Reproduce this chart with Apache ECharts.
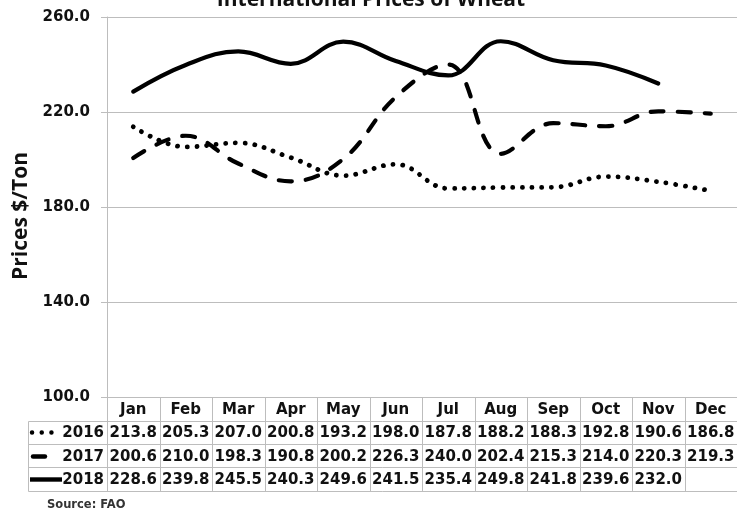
<!DOCTYPE html>
<html><head><meta charset="utf-8">
<script src="https://cdn.jsdelivr.net/npm/echarts@6/dist/echarts.min.js"></script>
<style>html,body{margin:0;padding:0;background:#fff}#c{width:737px;height:514px}</style>
</head><body><div id="c"></div>
<script>
const months = ['Jan','Feb','Mar','Apr','May','Jun','Jul','Aug','Sep','Oct','Nov','Dec'];
const seriesNames = ['2016','2017','2018'];
const prices2016 = [213.8,205.3,207.0,200.8,193.2,198.0,187.8,188.2,188.3,192.8,190.6,186.8];
const prices2017 = [200.6,210.0,198.3,190.8,200.2,226.3,240.0,202.4,215.3,214.0,220.3,219.3];
const prices2018 = [228.6,239.8,245.5,240.3,249.6,241.5,235.4,249.8,241.8,239.6,232.0,null];
const yMin = 100, yMax = 260, yStep = 40;
const titleText = 'International Prices of Wheat';
const yName = 'Prices $/Ton';
const sourceText = 'Source: FAO';

const allValues = [prices2016, prices2017, prices2018];
const dashStyles = [
  {type:[0.1, 9.6], cap:'round', width:4.8},
  {type:[13, 14], cap:'round', width:4.2},
  {type:'solid', cap:'round', width:4.2}
];
const gridCol = '#bdbdbd';
const txtFont = 'DejaVu Sans';

const chart = echarts.init(document.getElementById('c'), null, {renderer:'canvas'});
const option = {
  animation: false,
  backgroundColor: '#fff',
  grid: {left:107, top:17, width:642, height:380, containLabel:false},
  xAxis: {
    type:'category', data: months, boundaryGap:true,
    axisLine:{show:true, lineStyle:{color:gridCol, width:1}},
    axisTick:{show:false}, axisLabel:{show:false}, splitLine:{show:false}
  },
  yAxis: {
    type:'value', min:yMin, max:yMax, interval:yStep,
    axisLine:{show:true, lineStyle:{color:gridCol, width:1}},
    axisTick:{show:true, length:6, lineStyle:{color:gridCol}},
    splitLine:{show:true, lineStyle:{color:gridCol, width:1}},
    axisLabel:{margin:17, formatter:v=>v.toFixed(1), fontFamily:txtFont, fontWeight:'bold', fontSize:15, color:'#111'}
  },
  series: seriesNames.map((n,i)=>({
    name:n, type:'line', data: allValues[i], smooth:0.4, symbol:'none', connectNulls:false,
    lineStyle: Object.assign({color:'#000'}, dashStyles[i]),
    z: 3
  }))
};
chart.setOption(option);

// table below the plot
const xc = i => chart.convertToPixel({xAxisIndex:0}, i);
const half = (xc(1) - xc(0)) / 2;
const tableTop = Math.round(chart.convertToPixel({yAxisIndex:0}, yMin)) + 0.5;
const rowH = 23.3;
const labelLeft = 28.5;
const rightEdge = xc(months.length - 1) + half;
const g = [];
const lineEl = (x1,y1,x2,y2,style) => g.push({type:'line', shape:{x1,y1,x2,y2}, style:Object.assign({stroke:gridCol, lineWidth:1}, style||{}), z:10});
const textEl = (x,y,t,opts) => g.push({type:'text', x, y, style:Object.assign({text:t, fill:'#111', font:'bold 15px "DejaVu Sans"', textAlign:'center', textVerticalAlign:'middle'}, opts||{}), z:11});

// horizontal lines
for (let r = 1; r <= 4; r++) {
  const y = Math.round(tableTop + r*rowH) + 0.5;
  lineEl(labelLeft, y, rightEdge, y);
}
// vertical lines
for (let k = 0; k <= months.length; k++) {
  const x = Math.round(xc(0) - half + k*2*half) + 0.5;
  lineEl(x, tableTop, x, Math.round(tableTop + 4*rowH) + 0.5);
}
lineEl(labelLeft, Math.round(tableTop + rowH) + 0.5, labelLeft, Math.round(tableTop + 4*rowH) + 0.5);

// header
months.forEach((m,i) => textEl(xc(i), tableTop + rowH/2 + 1, m));
// rows
allValues.forEach((vals, r) => {
  const yc = tableTop + rowH*(r+1) + rowH/2 + 1;
  vals.forEach((v,i) => { if (v !== null && v !== undefined) textEl(xc(i), yc, v.toFixed(1)); });
  textEl(104, yc, seriesNames[r], {textAlign:'right'});
  // legend keys
  const ky = Math.round(yc) - 0.5;
  if (r === 0) g.push({type:'line', shape:{x1:32, y1:ky, x2:58, y2:ky}, style:{stroke:'#000', lineWidth:4.4, lineDash:[0.1, 9.6], lineCap:'round'}, z:11});
  if (r === 1) g.push({type:'line', shape:{x1:33, y1:ky, x2:45, y2:ky}, style:{stroke:'#000', lineWidth:4.4, lineCap:'round'}, z:11});
  if (r === 2) g.push({type:'line', shape:{x1:30, y1:ky, x2:62, y2:ky}, style:{stroke:'#000', lineWidth:4.4, lineCap:'butt'}, z:11});
});

// title, y name, source
g.push({type:'text', x:371, y:11, style:{text:titleText, fill:'#111', font:'bold 21px "Open Sans"', textAlign:'center', textVerticalAlign:'bottom'}, z:11});
g.push({type:'text', x:21, y:216, rotation:Math.PI/2, style:{text:yName, fill:'#111', font:'bold 21px "Open Sans"', textAlign:'center', textVerticalAlign:'middle'}, z:11});
g.push({type:'text', x:47, y:505, style:{text:sourceText, fill:'#333', font:'bold 11.5px "DejaVu Sans"', textAlign:'left', textVerticalAlign:'middle'}, z:11});

chart.setOption({graphic: g});
</script>
</body></html>
